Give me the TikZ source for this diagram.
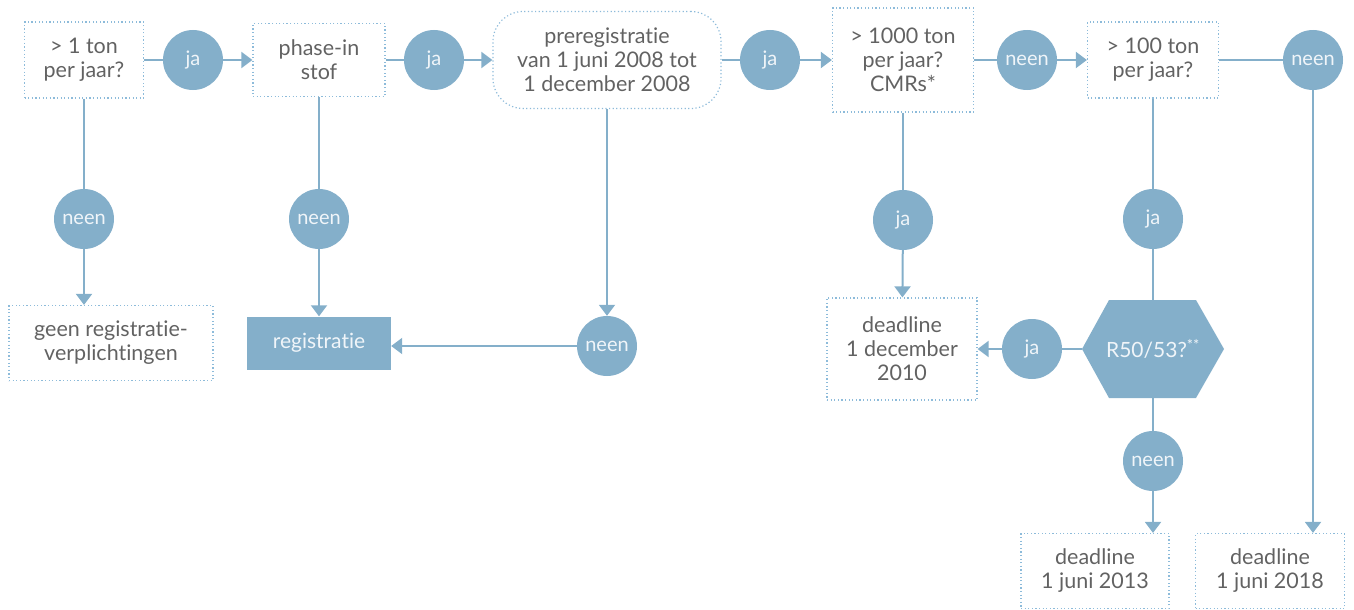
\documentclass[tikz,border=0pt]{standalone}
\usepackage{fontspec}
\setmainfont{Lato}[Ligatures=NoCommon]
\usepackage{tikz}
\usetikzlibrary{shapes.geometric,arrows.meta}
\definecolor{reachblue}{HTML}{84AFCA}
\definecolor{dotblue}{HTML}{8DBBDA}
\definecolor{txtgrey}{HTML}{626262}
\tikzstyle{question} = [rectangle, draw=dotblue, line width=1.2pt, dash pattern=on 1.2pt off 2.4pt, text=txtgrey, align=center, inner sep=0pt, font=\fontsize{21.5}{24}\selectfont]
\tikzstyle{result} = [rectangle, fill=reachblue, text=white!88!reachblue, align=center, inner sep=0pt, font=\fontsize{21}{24}\selectfont]
\tikzstyle{answer} = [circle, fill=reachblue, minimum size=60pt, inner sep=0pt, text=white!88!reachblue, font=\fontsize{20}{22}\selectfont]
\tikzstyle{line} = [draw=reachblue, line width=2pt]
\tikzstyle{arrow} = [line, -{Triangle[length=11pt,width=16pt]}]

\begin{document}
\begin{tikzpicture}[x=1pt,y=-1pt]
	\useasboundingbox (0,0) rectangle (1354,610);
	% top row
	\node (ton1) [question, minimum width=119pt, minimum height=76pt] at (84,60) {> 1 ton\\per jaar?};
	\node (ja1) [answer] at (193,60) {ja};
	\node (phasein) [question, minimum width=132pt, minimum height=73pt] at (319,60) {phase-in\\stof};
	\node (ja2) [answer] at (434,60) {ja};
	\node (prereg) [question, rounded corners=30pt, minimum width=228pt, minimum height=97pt] at (607,60) {preregistratie\\van 1 juni 2008 tot\\1 december 2008};
	\node (ja3) [answer] at (770,60) {ja};
	\node (ton1000) [question, minimum width=141pt, minimum height=104pt] at (903,60) {> 1000 ton\\per jaar?\\CMRs*};
	\node (neen1) [answer] at (1027,60) {neen};
	\node (ton100) [question, minimum width=131pt, minimum height=76pt] at (1153,60) {> 100 ton\\per jaar?};
	\node (neen2) [answer] at (1313,60) {neen};

	% answers below
	\node (neen3) [answer] at (84,219) {neen};
	\node (neen4) [answer] at (319,219) {neen};
	\node (neen5) [answer] at (607,346) {neen};
	\node (ja4) [answer] at (903,220) {ja};
	\node (ja5) [answer] at (1153,219) {ja};
	\node (ja6) [answer] at (1032,349) {ja};
	\node (neen6) [answer] at (1153,461) {neen};

	% outcomes
	\node (geen) [question, minimum width=204pt, minimum height=75pt] at (111,343) {geen registratie-\\verplichtingen};
	\node (registratie) [result, minimum width=144pt, minimum height=53pt] at (319,343) {registratie};
	\node (dl2010) [question, minimum width=150pt, minimum height=102pt] at (902,349) {deadline\\1 december\\2010};
	\node (dl2013) [question, minimum width=148pt, minimum height=75pt] at (1095,571) {deadline\\1 juni 2013};
	\node (dl2018) [question, minimum width=149pt, minimum height=75pt] at (1270,571) {deadline\\1 juni 2018};

	% hexagon
	\fill [reachblue] (1082,349) -- (1109,300) -- (1196,300) -- (1224,349) -- (1196,398) -- (1109,398) -- cycle;
	\node (r50) [text=white!88!reachblue, minimum width=142pt, minimum height=98pt, inner sep=0pt, font=\fontsize{21}{24}\selectfont] at (1153,349) {R50/53?\textsuperscript{**}};

	\draw [line] (ton1) -- (ja1);
	\draw [arrow] (ja1) -- (phasein);
	\draw [line] (phasein) -- (ja2);
	\draw [arrow] (ja2) -- (prereg);
	\draw [line] (prereg) -- (ja3);
	\draw [arrow] (ja3) -- (ton1000);
	\draw [line] (ton1000) -- (neen1);
	\draw [arrow] (neen1) -- (ton100);
	\draw [line] (ton100) -- (neen2);
	\draw [arrow] (neen2) -- (neen2 |- dl2018.north);

	\draw [line] (ton1) -- (neen3);
	\draw [arrow] (neen3) -- (neen3 |- geen.north);
	\draw [line] (phasein) -- (neen4);
	\draw [arrow] (neen4) -- (registratie);
	\draw [arrow] (prereg) -- (neen5);
	\draw [arrow] (neen5) -- (neen5 -| registratie.east);

	\draw [line] (ton1000) -- (ja4);
	\draw [arrow] (ja4) -- (dl2010);
	\draw [line] (ton100) -- (ja5);
	\draw [line] (ja5) -- (r50);
	\draw [line] (r50) -- (ja6);
	\draw [arrow] (ja6) -- (dl2010);
	\draw [line] (r50) -- (neen6);
	\draw [arrow] (neen6) -- (neen6 |- dl2013.north);
\end{tikzpicture}
\end{document}
